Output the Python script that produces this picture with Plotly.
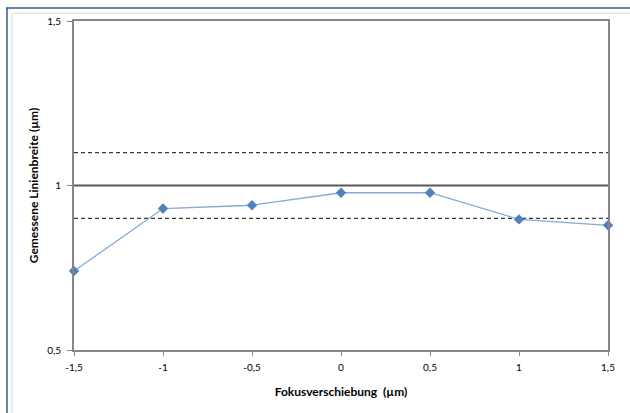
import plotly.graph_objects as go

# Data
focus_shift = [-1.5, -1.0, -0.5, 0.0, 0.5, 1.0, 1.5]
line_width = [0.74, 0.93, 0.94, 0.978, 0.978, 0.897, 0.879]
nominal = 1.0
tol_low = 0.9
tol_high = 1.1
x_ticks = [-1.5, -1.0, -0.5, 0.0, 0.5, 1.0, 1.5]
x_ticktext = ["-1,5", "-1", "-0,5", "0", "0,5", "1", "1,5"]
y_ticks = [0.5, 1.0, 1.5]
y_ticktext = ["0,5", "1", "1,5"]

xr = [x_ticks[0], x_ticks[-1]]

fig = go.Figure()
fig.add_trace(go.Scatter(x=xr, y=[tol_high, tol_high], mode="lines",
                         line=dict(color="#3a3a3a", width=1.3, dash="4px,3px"),
                         hoverinfo="skip", showlegend=False))
fig.add_trace(go.Scatter(x=xr, y=[tol_low, tol_low], mode="lines",
                         line=dict(color="#3a3a3a", width=1.3, dash="4px,3px"),
                         hoverinfo="skip", showlegend=False))
fig.add_trace(go.Scatter(x=xr, y=[nominal, nominal], mode="lines",
                         line=dict(color="#595959", width=2),
                         hoverinfo="skip", showlegend=False))
fig.add_trace(go.Scatter(x=focus_shift, y=line_width, mode="lines+markers",
                         line=dict(color="#84a9d9", width=1.3),
                         marker=dict(symbol="diamond", size=8, color="#4f81bd"),
                         showlegend=False, cliponaxis=False))

L, R, T, B = 74, 22, 21, 63
W, H = 630, 413
pw, ph = W - L - R, H - T - B

def px(x):
    return (x - L) / pw

def py(y):
    return (H - B - y) / ph

shapes = [
    dict(type="line", xref="paper", yref="paper", x0=px(12), x1=px(W), y0=py(13), y1=py(13),
         line=dict(color="#e6e6e6", width=1.5)),
    dict(type="line", xref="paper", yref="paper", x0=px(12), x1=px(12), y0=py(13), y1=py(H),
         line=dict(color="#e6e6e6", width=1.5)),
    dict(type="line", xref="paper", yref="paper", x0=px(6), x1=px(W), y0=py(8), y1=py(8),
         line=dict(color="#2e5f95", width=1.5)),
    dict(type="line", xref="paper", yref="paper", x0=px(7), x1=px(7), y0=py(8), y1=py(H),
         line=dict(color="#2e5f95", width=1.5)),
]

font_family = "Lato, 'Open Sans', sans-serif"

fig.update_layout(
    width=W, height=H,
    margin=dict(l=L, r=R, t=T, b=B),
    paper_bgcolor="white", plot_bgcolor="white",
    font=dict(family=font_family, size=10, color="#000000"),
    shapes=shapes,
    xaxis=dict(
        range=xr, tickvals=x_ticks, ticktext=x_ticktext,
        showgrid=False, zeroline=False,
        showline=True, linecolor="#868686", linewidth=2, mirror=True,
        ticks="outside", ticklen=4, tickcolor="#868686", tickwidth=1,
        tickfont=dict(size=10), ticklabelstandoff=3,
        title=dict(text="<b>Fokusverschiebung  (µm)</b>", font=dict(size=12), standoff=16),
    ),
    yaxis=dict(
        range=[0.5, 1.5], tickvals=y_ticks, ticktext=y_ticktext,
        showgrid=False, zeroline=False,
        showline=True, linecolor="#868686", linewidth=2, mirror=True,
        ticks="outside", ticklen=5, tickcolor="#868686", tickwidth=1,
        tickfont=dict(size=10), ticklabelstandoff=4,
        title=dict(text="<b>Gemessene Linienbreite (µm)</b>", font=dict(size=12), standoff=6),
    ),
)

fig.write_html("out.html")
